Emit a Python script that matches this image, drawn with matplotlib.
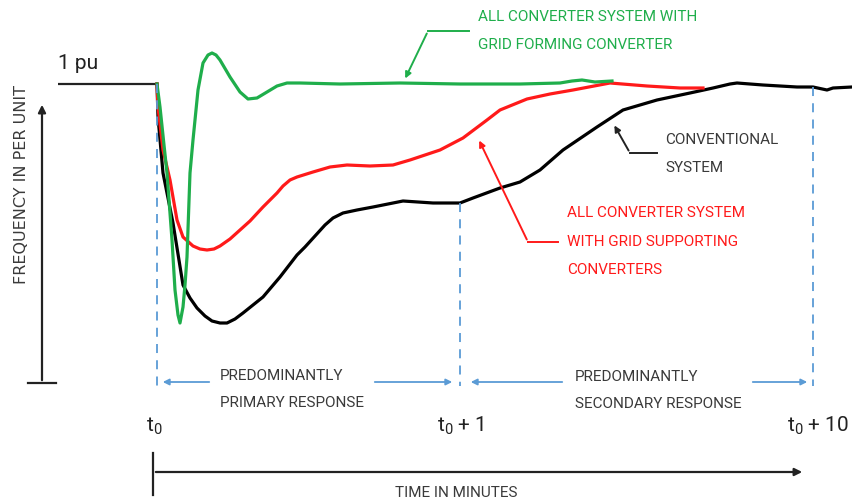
import matplotlib
matplotlib.use("Agg")
import matplotlib.pyplot as plt

# ---------------- data (figure coordinates: x = time position, y = frequency position, y grows downward)
base_x = [58, 157]
base_y = [84, 84]

green_x = [157, 160, 164, 167, 172, 175, 178, 180, 183, 185, 187, 190, 193, 198, 203, 208, 212, 216, 220, 230, 240, 248, 257, 267, 277, 287, 300, 340, 400, 460, 520, 560, 572, 582, 595, 612]
green_y = [84, 107, 145, 173, 240, 290, 315, 323, 307, 285, 257, 173, 140, 90, 63, 55, 53, 55, 60, 77, 92, 99, 98, 92, 86, 83, 83, 84, 83, 84, 84, 83, 81, 80, 82, 81]

red_x = [157, 158, 163, 170, 177, 183, 193, 200, 207, 214, 220, 230, 250, 263, 277, 283, 290, 297, 313, 330, 347, 370, 393, 410, 440, 463, 487, 500, 527, 550, 573, 610, 647, 680, 703]
red_y = [84, 107, 150, 180, 220, 237, 246, 249, 250, 249, 246, 239, 221, 207, 193, 186, 180, 177, 172, 167, 165, 166, 165, 160, 150, 138, 120, 110, 99, 94, 90, 83, 86, 88, 88]

black_x = [157, 158, 163, 173, 183, 190, 197, 205, 212, 220, 227, 235, 243, 263, 280, 297, 305, 315, 325, 333, 343, 357, 373, 403, 433, 460, 473, 500, 520, 540, 563, 597, 623, 657, 690, 713, 730, 737, 763, 797, 813, 827, 833, 852]
black_y = [84, 117, 173, 223, 285, 298, 308, 316, 321, 323, 323, 319, 313, 297, 277, 255, 247, 236, 225, 218, 213, 210, 207, 201, 203, 203, 198, 188, 182, 170, 150, 127, 110, 100, 93, 88, 84, 83, 85, 87, 87, 90, 88, 87]

time_marks = [157, 460, 813]
time_mark_tops = [84, 203, 87]
time_labels = ["t$_0$", "t$_0$ + 1", "t$_0$ + 10"]
label_x = [146, 437, 787]

# ---------------- figure
plt.rcParams['font.family'] = ['Roboto', 'DejaVu Sans']
plt.rcParams['mathtext.fontset'] = 'custom'
plt.rcParams['mathtext.rm'] = 'Roboto'
plt.rcParams['mathtext.it'] = 'Roboto'
fig = plt.figure(figsize=(8.52, 5.01), dpi=100)
ax = fig.add_axes([0, 0, 1, 1])
ax.set_xlim(0, 852)
ax.set_ylim(501, 0)
ax.axis('off')

GREEN = '#1fae4b'
RED = '#ff1a1a'
BLUE = '#5b9bd5'
GREY = '#3a3a3a'
DARK = '#222222'

ax.plot(base_x, base_y, color=DARK, lw=1.6, solid_capstyle='butt')
ax.plot(black_x, black_y, color='black', lw=2.3, solid_joinstyle='round')
ax.plot(red_x, red_y, color=RED, lw=2.3, solid_joinstyle='round')
ax.plot(green_x, green_y, color=GREEN, lw=2.3, solid_joinstyle='round')

# dashed vertical time markers
for x, top in zip(time_marks, time_mark_tops):
    ax.plot([x, x], [top, 386], color=BLUE, lw=1.3, dashes=(5, 4))

# blue span arrows
arr = dict(arrowstyle='-|>', color=BLUE, lw=1.3, mutation_scale=9)
ax.annotate('', xy=(160, 382), xytext=(212, 382), arrowprops=arr)
ax.annotate('', xy=(455, 382), xytext=(372, 382), arrowprops=arr)
ax.annotate('', xy=(468, 382), xytext=(565, 382), arrowprops=arr)
ax.annotate('', xy=(810, 382), xytext=(750, 382), arrowprops=arr)

fs = 11
ax.text(220, 376, "PREDOMINANTLY", fontsize=fs, color=GREY, ha='left', va='center')
ax.text(220, 403, "PRIMARY RESPONSE", fontsize=fs, color=GREY, ha='left', va='center')
ax.text(575, 377, "PREDOMINANTLY", fontsize=fs, color=GREY, ha='left', va='center')
ax.text(575, 404, "SECONDARY RESPONSE", fontsize=fs, color=GREY, ha='left', va='center')

# time labels
for lx, t in zip(label_x, time_labels):
    ax.text(lx, 426, t, fontsize=15, color=DARK, ha='left', va='center')

# time axis
ax.plot([153, 153], [453, 495], color=DARK, lw=1.6)
ax.annotate('', xy=(805, 472), xytext=(153, 472),
            arrowprops=dict(arrowstyle='-|>', color=DARK, lw=1.6, mutation_scale=11))
ax.text(456, 493, "TIME IN MINUTES", fontsize=fs, color=GREY, ha='center', va='center')

# frequency axis
ax.plot([28, 56], [383, 383], color=DARK, lw=1.6)
ax.annotate('', xy=(42, 102), xytext=(42, 383),
            arrowprops=dict(arrowstyle='-|>', color=DARK, lw=1.6, mutation_scale=11))
ax.text(22, 185, "FREQUENCY IN PER UNIT", fontsize=11.5, color=GREY, rotation=90,
        ha='center', va='center', family=['DejaVu Sans'])
ax.text(58, 63, "1 pu", fontsize=15, color=DARK, ha='left', va='center')

# annotations
ax.plot([469, 428], [31, 31], color=GREEN, lw=1.4)
ax.annotate('', xy=(404, 81), xytext=(428, 31),
            arrowprops=dict(arrowstyle='-|>', color=GREEN, lw=1.4, mutation_scale=9))
ax.text(478, 17, "ALL CONVERTER SYSTEM WITH", fontsize=fs, color=GREEN, ha='left', va='center')
ax.text(478, 45, "GRID FORMING CONVERTER", fontsize=fs, color=GREEN, ha='left', va='center')

ax.plot([558, 528], [242, 242], color=RED, lw=1.4)
ax.annotate('', xy=(478, 138), xytext=(528, 242),
            arrowprops=dict(arrowstyle='-|>', color=RED, lw=1.4, mutation_scale=9))
for yy, s in zip([213, 242, 270], ["ALL CONVERTER SYSTEM", "WITH GRID SUPPORTING", "CONVERTERS"]):
    ax.text(567, yy, s, fontsize=fs, color=RED, ha='left', va='center')

ax.plot([657, 630], [153, 153], color=DARK, lw=1.4)
ax.annotate('', xy=(613, 123), xytext=(630, 153),
            arrowprops=dict(arrowstyle='-|>', color=DARK, lw=1.4, mutation_scale=9))
ax.text(665, 140, "CONVENTIONAL", fontsize=fs, color=GREY, ha='left', va='center')
ax.text(665, 168, "SYSTEM", fontsize=fs, color=GREY, ha='left', va='center')

fig.savefig('out.png', dpi=100)
